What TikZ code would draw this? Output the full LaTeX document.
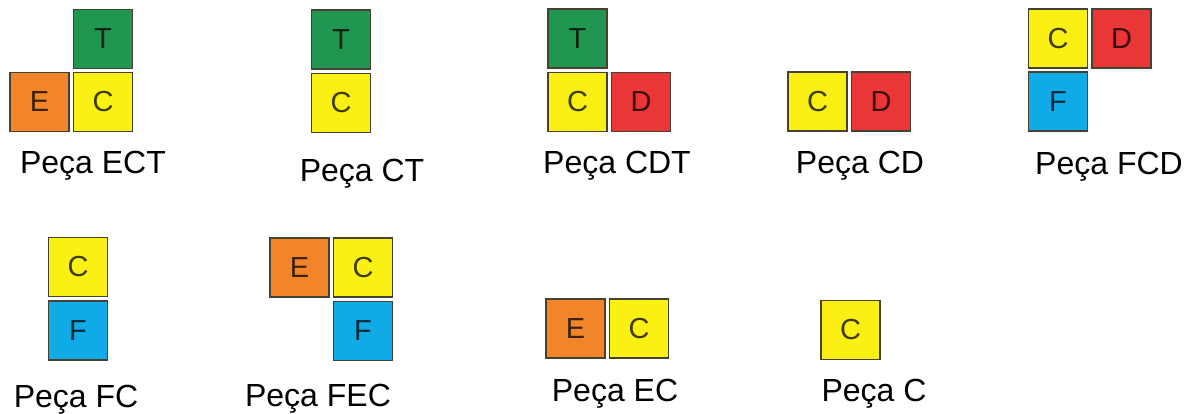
\documentclass[tikz,border=0pt]{standalone}
\usepackage{fontspec}
\setmainfont{Liberation Sans}
\definecolor{pgreen}{RGB}{32,150,80}
\definecolor{pyellow}{RGB}{250,240,20}
\definecolor{porange}{RGB}{242,132,42}
\definecolor{pred}{RGB}{234,54,54}
\definecolor{pblue}{RGB}{16,170,230}
\definecolor{sqline}{RGB}{70,66,50}
\begin{document}
\begin{tikzpicture}[x=1pt,y=-1pt]
    \tikzstyle{every node}+=[inner sep=0pt]
    \tikzstyle{sq}=[draw=sqline, line width=1.2pt, minimum size=59pt, text=black, text opacity=0.75, font=\fontsize{29}{29}\selectfont]
    \tikzstyle{grn}=[sq, fill=pgreen]
    \tikzstyle{yel}=[sq, fill=pyellow]
    \tikzstyle{org}=[sq, fill=porange]
    \tikzstyle{rd}=[sq, fill=pred]
    \tikzstyle{blu}=[sq, fill=pblue]
    \tikzstyle{lbl}=[anchor=base, font=\fontsize{32}{34}\selectfont]
    \useasboundingbox (0,0) rectangle (1200,414);
    % first row
    \node[grn] (ectT) at (103,39) {T};
    \node[org] (ectE) at (39.5,102) {E};
    \node[yel] (ectC) at (103,102) {C};
    \node[lbl] (lblECT) at (93,174) {Peça ECT};
    \node[grn] (ctT) at (341,39.5) {T};
    \node[yel] (ctC) at (341,103) {C};
    \node[lbl] (lblCT) at (362,182) {Peça CT};
    \node[grn] (cdtT) at (577.5,38.5) {T};
    \node[yel] (cdtC) at (577.5,102) {C};
    \node[rd] (cdtD) at (641,102) {D};
    \node[lbl] (lblCDT) at (617,174) {Peça CDT};
    \node[yel] (cdC) at (817.5,101.5) {C};
    \node[rd] (cdD) at (881,101.5) {D};
    \node[lbl] (lblCD) at (860,174) {Peça CD};
    \node[yel] (fcdC) at (1058,38.5) {C};
    \node[rd] (fcdD) at (1121.5,38.5) {D};
    \node[blu] (fcdF) at (1058,101.5) {F};
    \node[lbl] (lblFCD) at (1109,175) {Peça FCD};
    % second row
    \node[yel] (fcC) at (78,267) {C};
    \node[blu] (fcF) at (78,330.5) {F};
    \node[lbl] (lblFC) at (76,407) {Peça FC};
    \node[org] (fecE) at (299.5,267.5) {E};
    \node[yel] (fecC) at (363,267.5) {C};
    \node[blu] (fecF) at (363,331) {F};
    \node[lbl] (lblFEC) at (318,406) {Peça FEC};
    \node[org] (ecE) at (575.5,328.5) {E};
    \node[yel] (ecC) at (639,328.5) {C};
    \node[lbl] (lblEC) at (615,401) {Peça EC};
    \node[yel] (cC) at (850.5,330) {C};
    \node[lbl] (lblC) at (874,401) {Peça C};
\end{tikzpicture}
\end{document}
